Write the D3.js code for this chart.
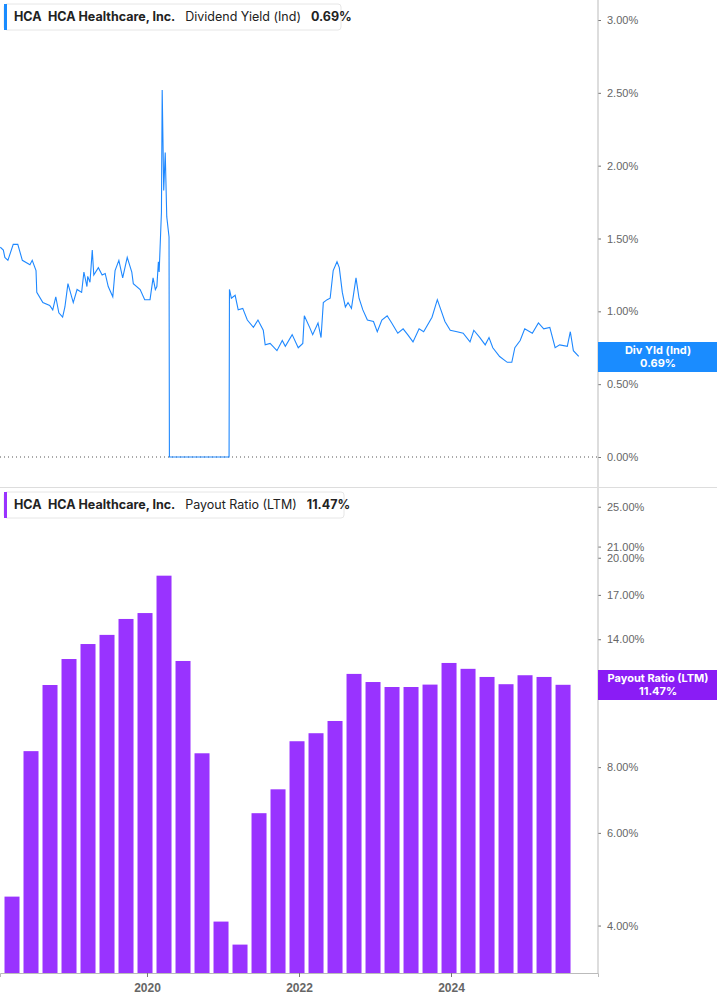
<!DOCTYPE html>
<html><head><meta charset="utf-8">
<script src="https://cdn.jsdelivr.net/npm/d3@7"></script>
<style>body{margin:0;background:#fff;font-family:Inter,"Noto Sans",sans-serif}</style>
</head><body><svg id="c" width="717" height="1005"></svg>
<script>
const yieldDates=[2018.07,2018.11,2018.13,2018.17,2018.24,2018.30,2018.36,2018.46,2018.49,2018.54,2018.55,2018.63,2018.72,2018.76,2018.80,2018.84,2018.89,2018.92,2018.96,2019.03,2019.08,2019.14,2019.17,2019.21,2019.22,2019.25,2019.28,2019.30,2019.36,2019.41,2019.45,2019.49,2019.55,2019.58,2019.63,2019.68,2019.74,2019.80,2019.82,2019.91,2019.97,2020.04,2020.08,2020.11,2020.13,2020.15,2020.16,2020.19,2020.20,2020.21,2020.22,2020.24,2020.26,2020.29,2020.295,2021.08,2021.085,2021.11,2021.16,2021.20,2021.26,2021.32,2021.40,2021.46,2021.53,2021.555,2021.62,2021.71,2021.78,2021.82,2021.91,2021.99,2022.05,2022.07,2022.14,2022.18,2022.25,2022.29,2022.32,2022.37,2022.41,2022.45,2022.50,2022.53,2022.57,2022.61,2022.645,2022.69,2022.75,2022.79,2022.84,2022.90,2022.98,2023.03,2023.09,2023.16,2023.22,2023.30,2023.37,2023.43,2023.50,2023.58,2023.64,2023.75,2023.82,2023.86,2023.92,2023.99,2024.08,2024.16,2024.25,2024.30,2024.38,2024.45,2024.50,2024.55,2024.64,2024.74,2024.80,2024.84,2024.91,2024.97,2025.07,2025.15,2025.22,2025.30,2025.37,2025.43,2025.53,2025.57,2025.61,2025.68];
const yieldValues=[1.44,1.42,1.37,1.35,1.46,1.46,1.35,1.32,1.35,1.28,1.13,1.06,1.04,1.01,1.10,0.99,0.96,1.03,1.19,1.06,1.15,1.13,1.27,1.17,1.24,1.20,1.42,1.25,1.30,1.25,1.26,1.17,1.10,1.28,1.35,1.23,1.37,1.27,1.19,1.15,1.08,1.08,1.23,1.15,1.17,1.34,1.27,1.68,2.52,2.18,1.83,2.09,1.65,1.51,0,0,1.15,1.09,1.11,1.01,1.02,0.94,0.89,0.94,0.87,0.77,0.78,0.73,0.80,0.76,0.84,0.75,0.78,0.97,0.89,0.84,0.92,0.82,1.06,1.08,1.09,1.28,1.34,1.30,1.13,1.03,1.06,1.02,1.23,1.09,1.01,0.94,0.93,0.86,0.94,0.97,0.92,0.85,0.88,0.84,0.79,0.88,0.86,0.96,1.08,1.02,0.93,0.87,0.86,0.85,0.79,0.87,0.82,0.77,0.82,0.75,0.69,0.65,0.65,0.75,0.80,0.88,0.85,0.92,0.88,0.89,0.75,0.77,0.76,0.86,0.73,0.69];
const quarters=["2018Q1","2018Q2","2018Q3","2018Q4","2019Q1","2019Q2","2019Q3","2019Q4","2020Q1","2020Q2","2020Q3","2020Q4","2021Q1","2021Q2","2021Q3","2021Q4","2022Q1","2022Q2","2022Q3","2022Q4","2023Q1","2023Q2","2023Q3","2023Q4","2024Q1","2024Q2","2024Q3","2024Q4","2025Q1","2025Q2"];
const payoutValues=[4.54,8.58,11.46,12.84,13.71,14.27,15.3,15.7,18.49,12.73,8.5,4.07,3.68,6.54,7.26,8.96,9.28,9.79,12.03,11.61,11.36,11.36,11.48,12.62,12.3,11.87,11.5,11.96,11.87,11.47];
const yieldTicks=[0,0.5,1,1.5,2,2.5,3];
const payoutTicks=[4,6,8,11,14,17,20,21,25];
const yearTicks=[2020,2022,2024];

const svg=d3.select("#c");
const AX=598, BLUE="#1e88ff", PURP="#9933ff";
const x=d3.scaleLinear().domain([2018.066,2025.934]).range([0,AX]);
const qPos=q=>+q.slice(0,4)+(+q[5]-1)*0.25+0.224;

// top panel
const y1=d3.scaleLinear().domain([0,3]).range([457,20]);
svg.append("line").attr("x1",0).attr("x2",AX).attr("y1",y1(0)).attr("y2",y1(0)).attr("stroke","#555").attr("stroke-dasharray","1,3");
svg.append("path").datum(d3.zip(yieldDates,yieldValues)).attr("fill","none").attr("stroke",BLUE).attr("stroke-width",1.1)
 .attr("d",d3.line().x(d=>x(d[0])).y(d=>y1(d[1])));
const g1=svg.append("g").attr("transform",`translate(${AX},0)`).call(d3.axisRight(y1).tickValues(yieldTicks).tickFormat(d=>d.toFixed(2)+"%").tickSize(3));
svg.append("line").attr("x1",AX).attr("x2",AX).attr("y1",0).attr("y2",487).attr("stroke","#bbb");

// separator
svg.append("line").attr("x1",0).attr("x2",717).attr("y1",487.5).attr("y2",487.5).attr("stroke","#ddd");

// bottom panel
const y2=d3.scaleLog().domain([3.25,26.9]).range([973,490]);
const bw=15;
svg.append("g").selectAll("rect").data(quarters).join("rect")
 .attr("x",(q)=>x(qPos(q))-bw/2).attr("width",bw)
 .attr("y",(q,i)=>y2(payoutValues[i])).attr("height",(q,i)=>973-y2(payoutValues[i])).attr("fill",PURP);
const g2=svg.append("g").attr("transform",`translate(${AX},0)`).call(d3.axisRight(y2).tickValues(payoutTicks).tickFormat(d=>d.toFixed(2)+"%").tickSize(3));
svg.append("line").attr("x1",AX).attr("x2",AX).attr("y1",488).attr("y2",973).attr("stroke","#bbb");
const gx=svg.append("g").attr("transform","translate(0,973)").call(d3.axisBottom(x).tickValues(yearTicks).tickFormat(d3.format("d")).tickSize(4));
gx.select(".domain").attr("stroke","#bbb");
gx.selectAll("text").attr("font-size",12).attr("font-weight","bold").attr("fill","#666").attr("dy","1em");
[g1,g2].forEach(g=>{g.select(".domain").remove();g.selectAll("line").attr("stroke","#777");
 g.selectAll("text").attr("font-size",11).attr("fill","#666").attr("x",9);});
gx.selectAll("line").attr("stroke","#777");

// right labels
function badge(yc,color,l1,l2){
 svg.append("rect").attr("x",AX).attr("y",yc-15).attr("width",119).attr("height",30).attr("fill",color);
 svg.append("text").attr("x",AX+60).attr("y",yc-3).attr("text-anchor","middle").attr("fill","#fff").attr("font-size",11).attr("font-weight","bold").text(l1);
 svg.append("text").attr("x",AX+60).attr("y",yc+10).attr("text-anchor","middle").attr("fill","#fff").attr("font-size",11).attr("font-weight","bold").text(l2);
}
badge(357,"#1a8cff","Div Yld (Ind)","0.69%");
badge(685,"#8a1cf5","Payout Ratio (LTM)","11.47%");

// legends
function legend(y,color,w,metric,val){
 const g=svg.append("g").attr("transform",`translate(4,${y})`);
 g.append("rect").attr("width",w).attr("height",26).attr("rx",3).attr("fill","#fff").attr("stroke","#e6e6e6");
 g.append("rect").attr("width",3).attr("height",26).attr("fill",color);
 const t=g.append("text").attr("y",17).attr("font-size",12.5).attr("font-weight","bold").attr("fill","#222");
 t.append("tspan").attr("x",10).text("HCA");
 t.append("tspan").attr("x",44).text("HCA Healthcare, Inc.");
 t.append("tspan").attr("dx",10).attr("font-weight","normal").text(metric);
 t.append("tspan").attr("dx",10).text(val);
}
legend(4,"#1a8cff",337,"Dividend Yield (Ind)","0.69%");
legend(492,PURP,340,"Payout Ratio (LTM)","11.47%");
</script></body></html>
